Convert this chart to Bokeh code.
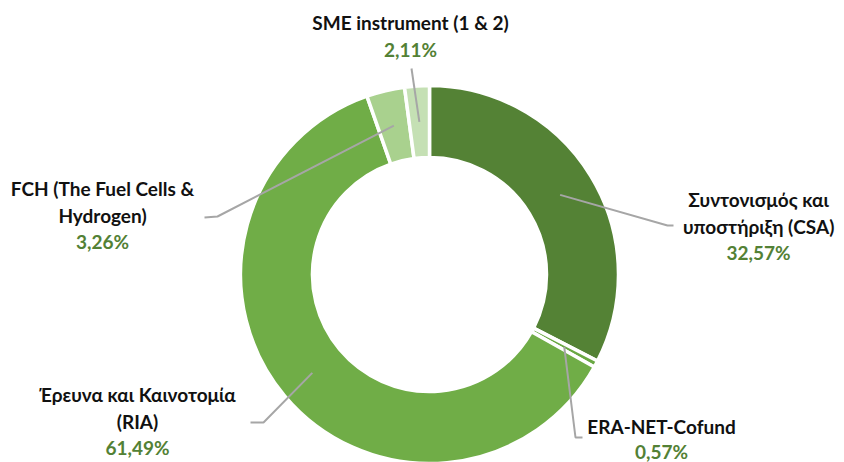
import numpy as np
from bokeh.plotting import figure
from bokeh.models import Range1d, ColumnDataSource
from bokeh.core.properties import value
from bokeh.embed import file_html
from bokeh.resources import INLINE

# ---- data ----
categories = ["Συντονισμός και υποστήριξη (CSA)", "ERA-NET-Cofund",
              "Έρευνα και Καινοτομία (RIA)", "FCH (The Fuel Cells & Hydrogen)",
              "SME instrument (1 & 2)"]
shares = [32.57, 0.57, 61.49, 3.26, 2.11]
pct_labels = ["32,57%", "0,57%", "61,49%", "3,26%", "2,11%"]
name_lines = [["Συντονισμός και", "υποστήριξη (CSA)"],
              ["ERA-NET-Cofund"],
              ["Έρευνα και Καινοτομία", "(RIA)"],
              ["FCH (The Fuel Cells &", "Hydrogen)"],
              ["SME instrument (1 & 2)"]]
colors = ["#548235", "#6AA843", "#70AD47", "#A9D18E", "#C5E0B4"]

# ---- layout (image pixel coordinates, y downward) ----
W, H = 844, 462
CX, CY = 429, 274
R_OUT, R_IN = 189, 117
R_MID = 153
label_pos = [(758, 199), (661, 426), (137, 394), (102, 188), (410, 22)]
leader_outer = [[(673, 225), (667, 225)],
                [(582, 437), (575, 437)],
                [(250, 422), (263, 422)],
                [(204, 217), (217, 216)],
                [(411, 68)]]
LINE_H = 26.5

def fy(y):
    return H - y

p = figure(width=W, height=H, output_backend="svg", toolbar_location=None,
           x_range=Range1d(0, W), y_range=Range1d(0, H),
           min_border=0, outline_line_color=None)
p.axis.visible = False
p.grid.visible = False
p.background_fill_color = "white"

vals = np.array(shares)
frac = vals / vals.sum()
cum = np.concatenate([[0], np.cumsum(frac)])
start = np.pi / 2 - 2 * np.pi * cum[:-1]
end = np.pi / 2 - 2 * np.pi * cum[1:]

src = ColumnDataSource(dict(start=start, end=end, color=colors))
p.annular_wedge(x=CX, y=fy(CY), inner_radius=R_IN, outer_radius=R_OUT,
                start_angle="start", end_angle="end", direction="clock",
                fill_color="color", line_color="white", line_width=3.5, source=src)

# leader lines
mid_ang = 2 * np.pi * (cum[:-1] + cum[1:]) / 2  # clockwise from top
for i in range(len(shares)):
    mx = CX + R_MID * np.sin(mid_ang[i])
    my = CY - R_MID * np.cos(mid_ang[i])
    pts = leader_outer[i]
    xs = [q[0] for q in pts] + [mx]
    ys = [fy(q[1]) for q in pts] + [fy(my)]
    p.line(xs, ys, line_color="#A6A6A6", line_width=2)

# labels
FS = "19px"
for i in range(len(shares)):
    lx, ly = label_pos[i]
    lines = name_lines[i]
    lh = 25 if len(lines) == 1 and i == 1 else LINE_H
    for k, t in enumerate(lines):
        p.text([lx], [fy(ly + k * lh)], text=[t], text_align="center",
               text_baseline="middle", text_font=value("Lato"),
               text_font_style="bold", text_font_size=FS, text_color="#111111")
    p.text([lx], [fy(ly + len(lines) * lh)], text=[pct_labels[i]], text_align="center",
           text_baseline="middle", text_font=value("Lato"),
           text_font_style="bold", text_font_size=FS, text_color="#538135")

open("out.html", "w").write(file_html(p, INLINE))
